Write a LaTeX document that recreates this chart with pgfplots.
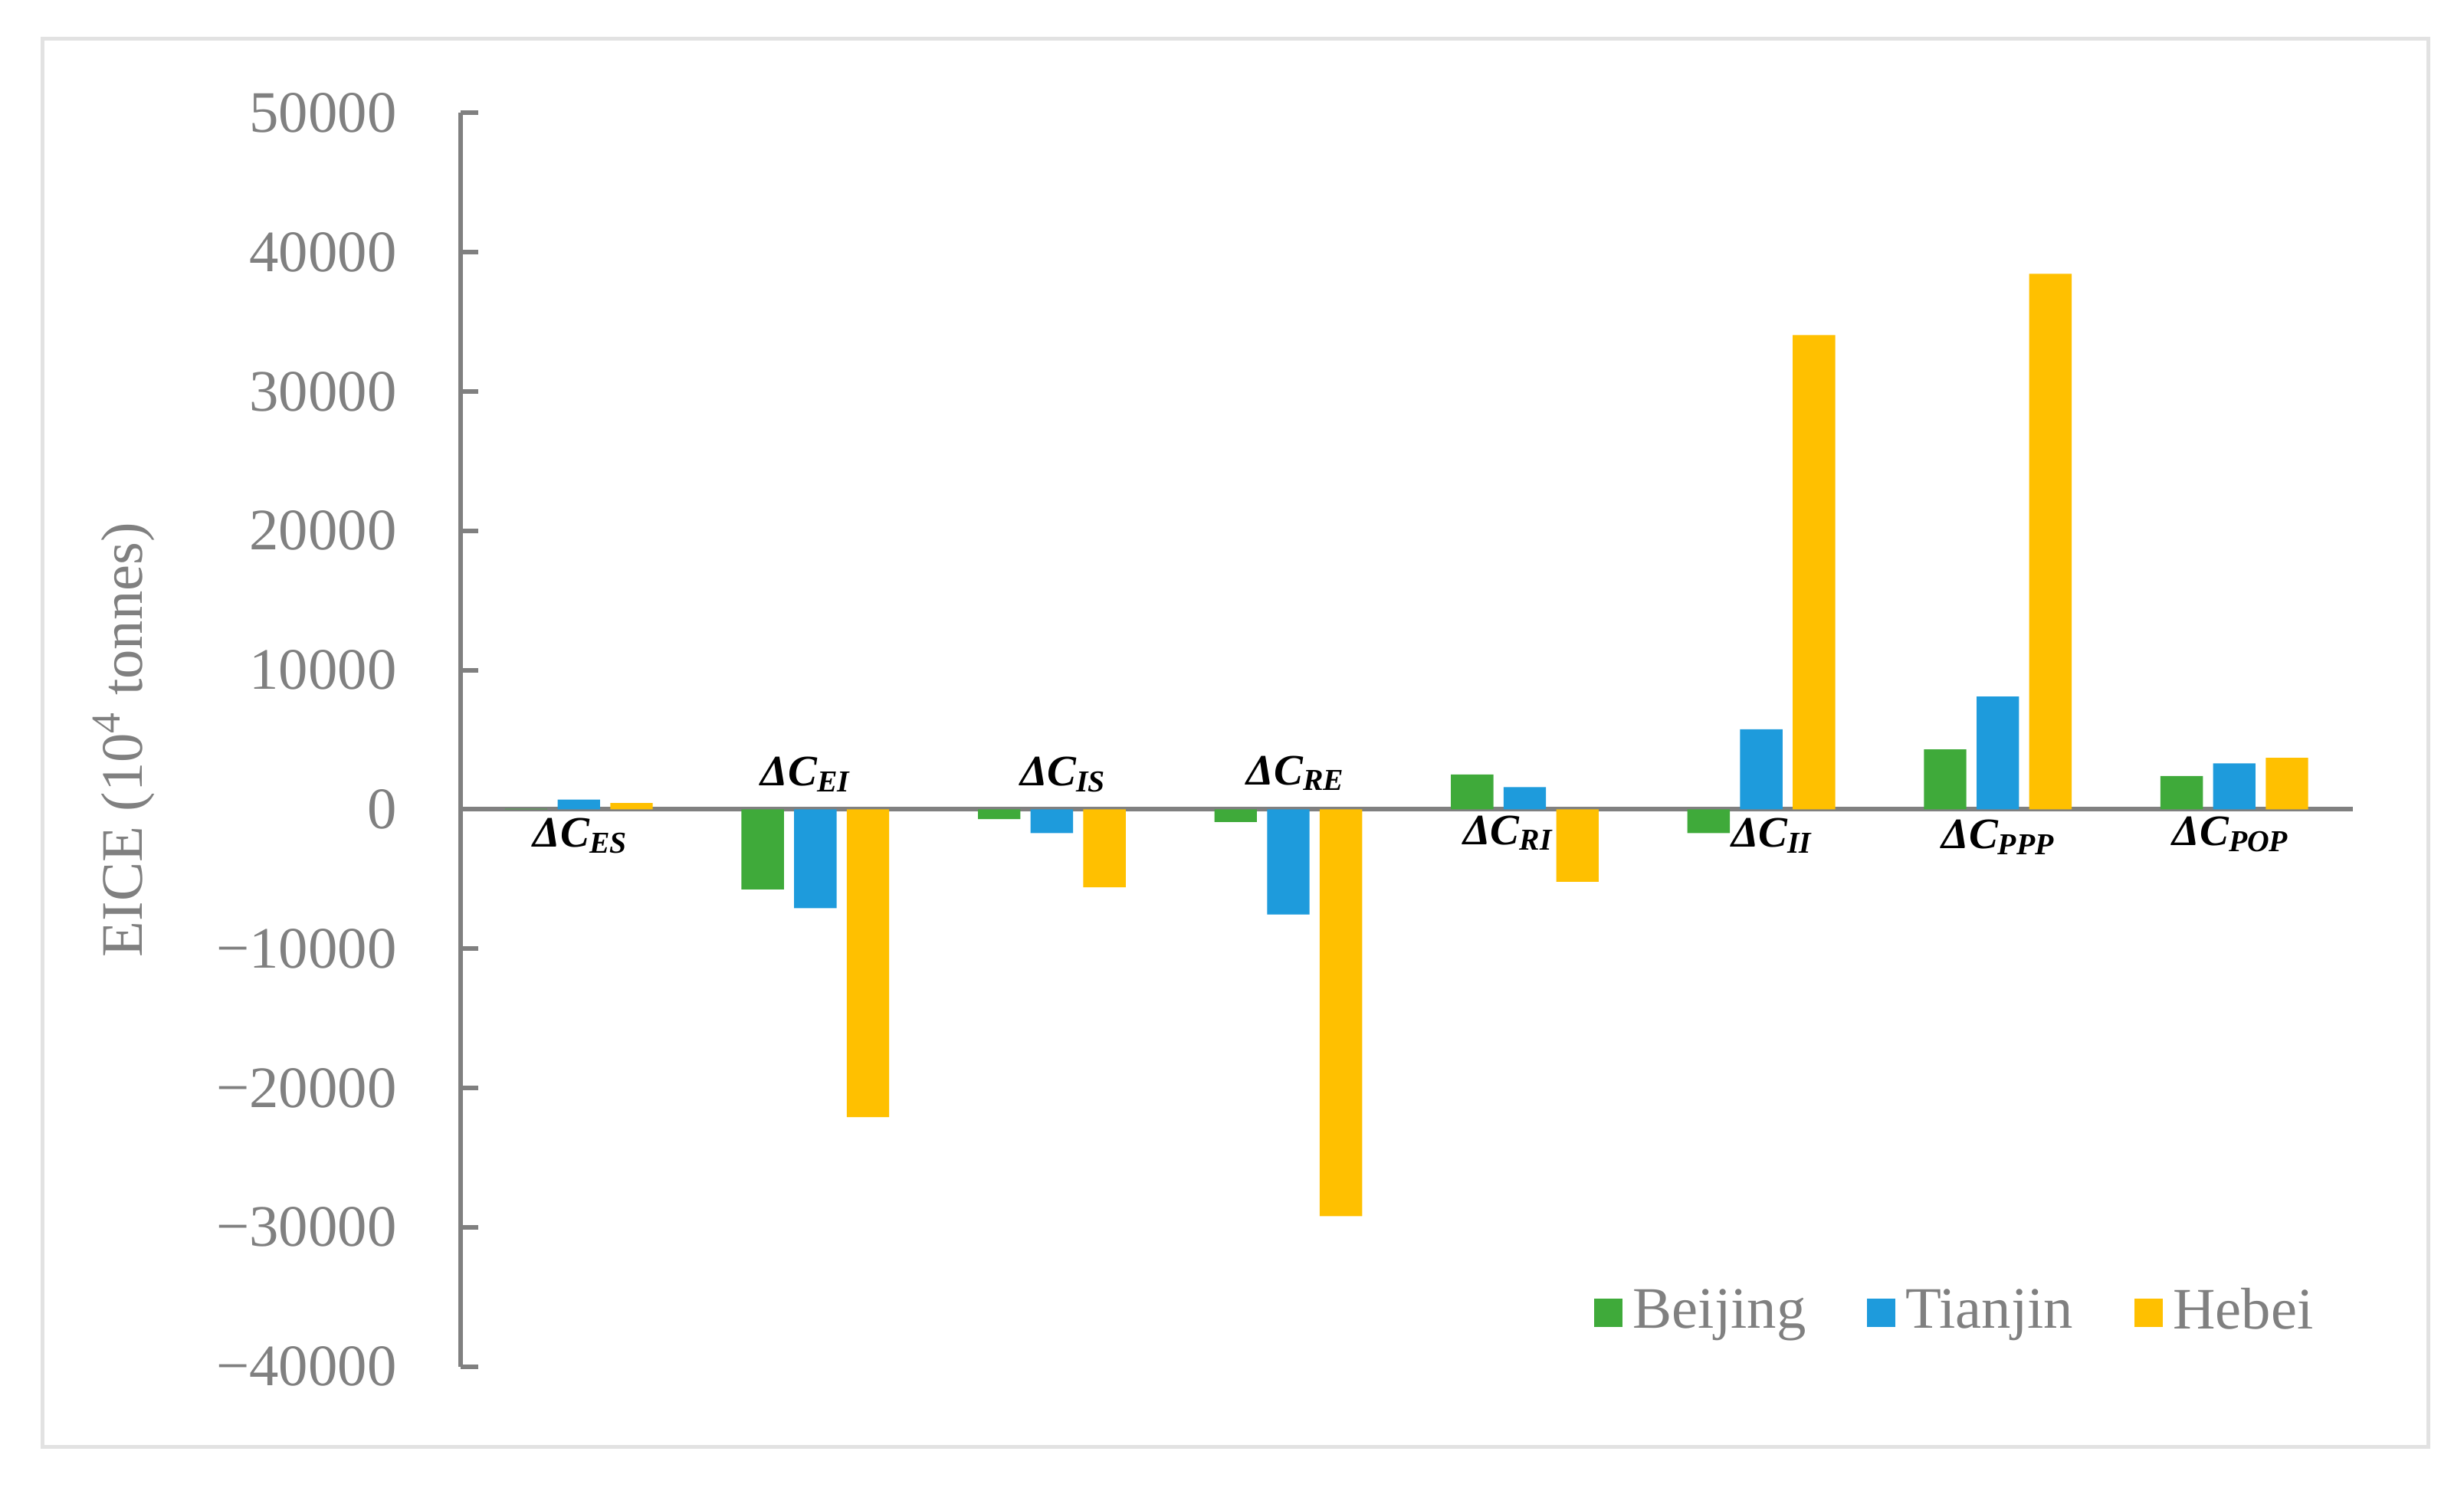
\documentclass[border=0pt]{standalone}
\usepackage{fontspec}
\setmainfont{Liberation Serif}
\usepackage{pgfplots}
\pgfplotsset{compat=1.18}
\definecolor{cB}{HTML}{3FAA3A}
\definecolor{cT}{HTML}{1E9BDC}
\definecolor{cH}{HTML}{FFC000}
\definecolor{txt}{HTML}{808080}
\definecolor{frm}{HTML}{E2E2E2}
\newcommand{\lab}[1]{{\fontsize{8.5}{9}\selectfont\bfseries\itshape ΔC\textsubscript{#1}}}
\begin{document}
\begin{tikzpicture}
\begin{axis}[
  scale only axis, width=370.1pt, height=245.3pt,
  xmin=-0.5, xmax=7.5, ymin=-40000, ymax=50000,
  axis y line*=left, axis x line*=middle,
  axis line style={draw=txt, line width=0.9pt},
  xtick=\empty,
  scaled y ticks=false,
  ytick={-40000,-30000,-20000,-10000,0,10000,20000,30000,40000,50000},
  yticklabels={−40000,−30000,−20000,−10000,0,10000,20000,30000,40000,50000},
  tick style={draw=txt, line width=0.9pt},
  tick align=inside, major tick length=3.5pt,
  yticklabel style={font=\fontsize{11.5}{12}\selectfont, text=txt, xshift=-9pt},
  ylabel={EICE (10\textsuperscript{4} tonnes)},
  ylabel style={at={(axis description cs:-0.178,0.5)}, anchor=center, font=\fontsize{11.5}{12}\selectfont, text=txt},
  ybar=2pt, bar width=8.3pt,
  clip=false,
  legend style={at={(axis description cs:0.792,0.043)}, anchor=center, draw=none, fill=none,
    legend columns=3, font=\fontsize{11.5}{12}\selectfont, text=txt,
    /tikz/every even column/.append style={column sep=10pt}},
  legend cell align=left,
]
\addplot[fill=cB, draw=none, legend image code/.code={\fill[cB] (0pt,-2.75pt) rectangle (5.5pt,2.75pt);}]
  coordinates {(0,50) (1,-5750) (2,-700) (3,-900) (4,2500) (5,-1700) (6,4300) (7,2400)};
\addplot[fill=cT, draw=none, legend image code/.code={\fill[cT] (0pt,-2.75pt) rectangle (5.5pt,2.75pt);}]
  coordinates {(0,700) (1,-7100) (2,-1700) (3,-7550) (4,1600) (5,5750) (6,8100) (7,3300)};
\addplot[fill=cH, draw=none, legend image code/.code={\fill[cH] (0pt,-2.75pt) rectangle (5.5pt,2.75pt);}]
  coordinates {(0,450) (1,-22100) (2,-5600) (3,-29200) (4,-5200) (5,34050) (6,38450) (7,3700)};
\legend{Beijing,Tianjin,Hebei}
\coordinate (sw) at (rel axis cs:0,0);
\node at (axis cs:0.01,-1900) {\lab{ES}};
\node at (axis cs:0.962,2500) {\lab{EI}};
\node at (axis cs:2.051,2500) {\lab{IS}};
\node at (axis cs:3.035,2600) {\lab{RE}};
\node at (axis cs:3.932,-1700) {\lab{RI}};
\node at (axis cs:5.048,-1900) {\lab{II}};
\node at (axis cs:6.005,-2000) {\lab{PPP}};
\node at (axis cs:6.988,-1800) {\lab{POP}};
\end{axis}
\draw[frm, line width=0.7pt] ([shift={(-81.8pt,-15.7pt)}]sw) rectangle ([shift={(384.9pt,259.8pt)}]sw);
\path[use as bounding box] ([shift={(-90.1pt,-24.9pt)}]sw) rectangle ([shift={(391.9pt,267.4pt)}]sw);
\end{tikzpicture}
\end{document}
